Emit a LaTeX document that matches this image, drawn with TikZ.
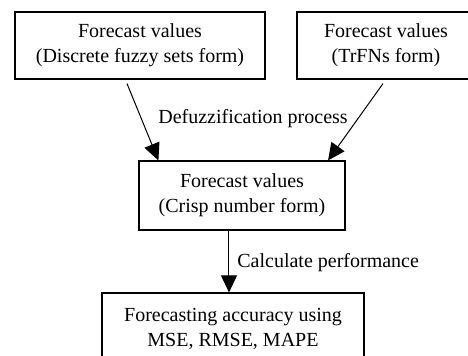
\documentclass[tikz,border=0pt]{standalone}
\usepackage{fontspec}
\setmainfont{Liberation Serif}
\usepackage{tikz}
\usetikzlibrary{arrows.meta}

\begin{document}
\begin{tikzpicture}[x=0.5pt, y=-0.5pt,
    box/.style={draw, line width=0.6pt, align=center, inner sep=0pt, minimum height=33.5pt},
    flow/.style={line width=0.5pt, -{Triangle[length=8.5pt, width=8pt]}},
    every node/.style={font=\fontsize{10}{12.5}\selectfont}]
    \clip (0, 0) rectangle (468, 356);

    \node[box, minimum width=125pt] (dfs) at (140, 45.5) {Forecast values\\(Discrete fuzzy sets form)};
    \node[box, minimum width=89pt] (trfn) at (386, 45.5) {Forecast values\\(TrFNs form)};
    \node[box, minimum width=103pt, minimum height=34.5pt] (crisp) at (242, 195.5) {Forecast values\\(Crisp number form)};
    \node[box, minimum width=131pt, minimum height=36pt] (acc) at (233, 329) {Forecasting accuracy using\\MSE, RMSE, MAPE};

    \draw[flow] ([xshift=-6.5pt, yshift=-2pt]dfs.south) -- ([xshift=10pt]crisp.north west);
    \draw[flow] ([xshift=-1.5pt, yshift=-2pt]trfn.south) -- ([xshift=-8.75pt]crisp.north east);
    \draw[flow] ([xshift=-6.5pt]crisp.south) -- ([xshift=-2pt]acc.north);

    \node[inner sep=0pt] (defuzz) at (253, 119) {Defuzzification process};
    \node[inner sep=0pt, anchor=west] (calc) at (237, 263) {Calculate performance};
\end{tikzpicture}
\end{document}
